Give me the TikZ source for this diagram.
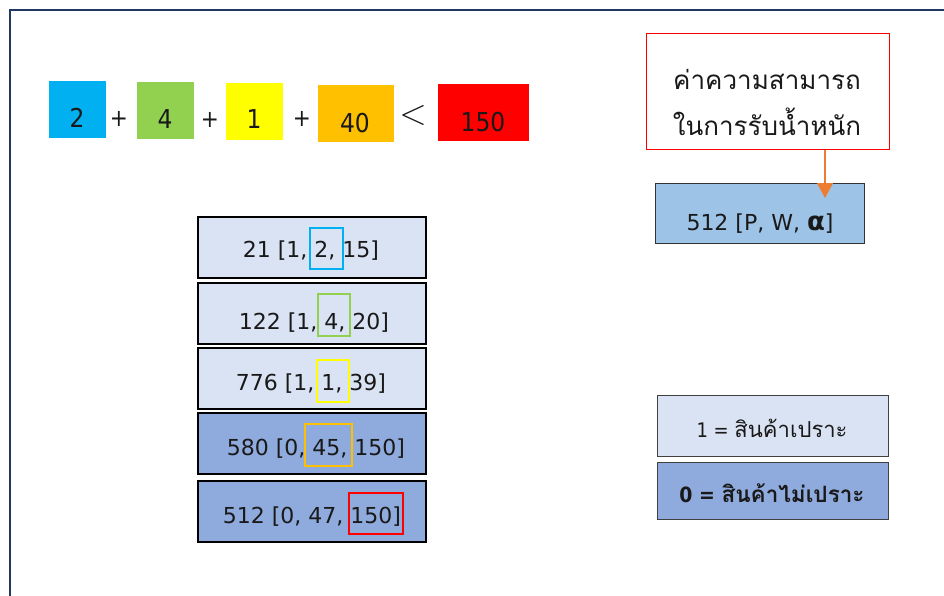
\documentclass[tikz,border=0pt]{standalone}
\usepackage{fontspec}
\usetikzlibrary{arrows.meta}
\setmainfont{DejaVu Sans}
\newfontfamily\cond{DejaVu Sans Condensed}
\newfontfamily\thai[Script=Thai]{Loma}
\newfontfamily\gk{DejaVu Sans}
\definecolor{cblue}{HTML}{00B0F0}
\definecolor{cgreen}{HTML}{92D050}
\definecolor{cyellow}{HTML}{FFFF00}
\definecolor{corange}{HTML}{FFC000}
\definecolor{cred}{HTML}{FF0000}
\definecolor{light}{HTML}{DAE3F3}
\definecolor{mid}{HTML}{8FAADC}
\definecolor{sky}{HTML}{9DC3E6}
\definecolor{navy}{HTML}{1F3864}
\definecolor{arr}{HTML}{ED7D31}
\begin{document}
\begin{tikzpicture}[x=1pt,y=-1pt,
  sq/.style={draw=none,inner sep=0pt,anchor=north west},
  txt/.style={inner sep=0pt,anchor=base,text=black!90},
  big/.style={font=\cond\fontsize{26}{30}\selectfont},
  stk/.style={font=\fontsize{22}{26}\selectfont},
  rowbox/.style={draw=black,line width=1.8pt,inner sep=0pt,anchor=north west,minimum width=228pt,minimum height=61pt},
  hl/.style={draw,line width=1.6pt,inner sep=0pt,anchor=north west},
  legbox/.style={draw=black!75,line width=1pt,inner sep=0pt,anchor=north west,minimum width=231pt}]
\clip (0,0) rectangle (944,595);
\useasboundingbox (0,0) rectangle (944,595);
\fill[white] (0,0) rectangle (944,595);
\draw[navy,line width=2.5pt] (10,1000) -- (10,10) -- (1000,10);
% top equation
\node[sq,fill=cblue,minimum width=57pt,minimum height=57pt] (q1) at (49,81) {};
\node[sq,fill=cgreen,minimum width=57pt,minimum height=57pt] (q2) at (137,82) {};
\node[sq,fill=cyellow,minimum width=57pt,minimum height=57pt] (q3) at (226,83) {};
\node[sq,fill=corange,minimum width=76pt,minimum height=57pt] (q4) at (318,85) {};
\node[sq,fill=cred,minimum width=91pt,minimum height=57pt] (q5) at (438,84) {};
\node[txt,big] (t1) at (77,127) {2};
\node[txt,big] (t2) at (165,128) {4};
\node[txt,big] (t3) at (254,128) {1};
\node[txt,big] (t4) at (355,132) {40};
\node[txt,big] (t5) at (483,131) {150};
\node[txt,font=\cond\fontsize{24}{26}\selectfont] (p1) at (119,126) {+};
\node[txt,font=\cond\fontsize{24}{26}\selectfont] (p2) at (210,127) {+};
\node[txt,font=\cond\fontsize{24}{26}\selectfont] (p3) at (302,126) {+};
\node[txt,font=\fontsize{24}{26}\selectfont,scale=1.45] (lt) at (413,124) {$<$};
% capacity box
\node[draw=cred,line width=1pt,inner sep=0pt,anchor=north west,minimum width=243pt,minimum height=116pt] (cap) at (646,33) {};
\node[txt,font=\thai\fontsize{26}{30}\selectfont] (c1) at (767,89) {ค่าความสามารถ};
\node[txt,font=\thai\fontsize{26}{30}\selectfont] (c2) at (767,135) {ในการรับน้ำหนัก};
\node[draw=black!80,line width=1pt,fill=sky,inner sep=0pt,anchor=north west,minimum width=209pt,minimum height=60pt] (pw) at (655,183) {};
\node[txt,stk] (pwt) at (760,230) {512 [P, W, {\gk\bfseries\fontsize{26}{28}\selectfont α}]};
\coordinate (atip) at (825,198);
\draw[arr,line width=1.2pt,-{Triangle[width=16pt,length=15pt]}] (cap.south -| atip) -- (atip);
% stack
\node[rowbox,fill=light] (r1) at (197,216) {};
\node[rowbox,fill=light] (r2) at (197,282) {};
\node[rowbox,fill=light] (r3) at (197,347) {};
\node[rowbox,fill=mid] (r4) at (197,412) {};
\node[rowbox,fill=mid] (r5) at (197,480) {};
\node[hl,draw=cblue,minimum width=33pt,minimum height=41pt] (h1) at (309,227) {};
\node[hl,draw=cgreen,minimum width=32pt,minimum height=42pt] (h2) at (317,293) {};
\node[hl,draw=cyellow,minimum width=32pt,minimum height=42pt] (h3) at (316,359) {};
\node[hl,draw=corange,minimum width=47pt,minimum height=42pt] (h4) at (304,423) {};
\node[hl,draw=cred,minimum width=54pt,minimum height=41pt] (h5) at (348,492) {};
\node[txt,stk] (s1) at (311,257) {21 [1, 2, 15]};
\node[txt,stk] (s2) at (314,329) {122 [1, 4, 20]};
\node[txt,stk] (s3) at (311,390) {776 [1, 1, 39]};
\node[txt,stk] (s4) at (316,455) {580 [0, 45, 150]};
\node[txt,stk] (s5) at (312,523) {512 [0, 47, 150]};
% legend
\node[legbox,fill=light,minimum height=61pt] (l1) at (657,395) {};
\node[legbox,fill=mid,minimum height=57pt] (l2) at (657,462) {};
\node[txt,font=\cond\fontsize{20}{24}\selectfont] (lt1) at (772,437) {1 = {\thai\fontsize{22}{24}\selectfont สินค้าเปราะ}};
\node[txt,font=\cond\fontsize{21}{24}\selectfont\bfseries] (lt2) at (772,502) {0 = {\thai\fontsize{22.5}{24}\selectfont\bfseries สินค้าไม่เปราะ}};
\end{tikzpicture}
\end{document}
